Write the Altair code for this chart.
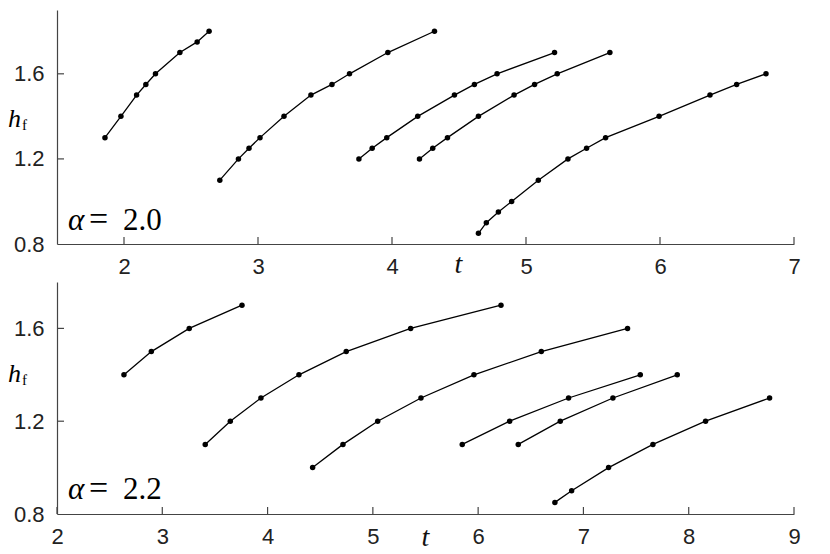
import altair as alt
import pandas as pd

# ---------------- data (alpha = 2.0) ----------------
top_t = [
    [1.858, 1.977, 2.094, 2.163, 2.235, 2.417, 2.546, 2.635],
    [2.715, 2.854, 2.933, 3.015, 3.194, 3.395, 3.552, 3.683, 3.969, 4.317],
    [3.753, 3.852, 3.961, 4.192, 4.466, 4.615, 4.784, 5.213],
    [4.205, 4.304, 4.414, 4.645, 4.911, 5.064, 5.233, 5.626],
    [4.645, 4.704, 4.794, 4.893, 5.092, 5.313, 5.452, 5.594, 5.993, 6.373, 6.572, 6.791],
]
top_h = [
    [1.30, 1.40, 1.50, 1.55, 1.60, 1.70, 1.75, 1.80],
    [1.10, 1.20, 1.25, 1.30, 1.40, 1.50, 1.55, 1.60, 1.70, 1.80],
    [1.20, 1.25, 1.30, 1.40, 1.50, 1.55, 1.60, 1.70],
    [1.20, 1.25, 1.30, 1.40, 1.50, 1.55, 1.60, 1.70],
    [0.85, 0.90, 0.95, 1.00, 1.10, 1.20, 1.25, 1.30, 1.40, 1.50, 1.55, 1.60],
]
# ---------------- data (alpha = 2.2) ----------------
bot_t = [
    [2.636, 2.896, 3.256, 3.757],
    [3.408, 3.646, 3.937, 4.298, 4.747, 5.359, 6.217],
    [4.428, 4.716, 5.046, 5.457, 5.960, 6.600, 7.419],
    [5.849, 6.299, 6.859, 7.540],
    [6.381, 6.780, 7.280, 7.891],
    [6.729, 6.888, 7.239, 7.660, 8.160, 8.768],
]
bot_h = [
    [1.40, 1.50, 1.60, 1.70],
    [1.10, 1.20, 1.30, 1.40, 1.50, 1.60, 1.70],
    [1.00, 1.10, 1.20, 1.30, 1.40, 1.50, 1.60],
    [1.10, 1.20, 1.30, 1.40],
    [1.10, 1.20, 1.30, 1.40],
    [0.85, 0.90, 1.00, 1.10, 1.20, 1.30],
]

top_xticks = [2, 3, 4, 5, 6, 7]
bot_xticks = [2, 3, 4, 5, 6, 7, 8, 9]
yticks = [0.8, 1.2, 1.6]
top_alpha = "2.0"
bot_alpha = "2.2"

AXIS_COLOR = "#444444"
LABEL_COLOR = "#222222"
SERIF = "Liberation Serif, Times New Roman, serif"
W = 737


def build(series_t, series_h):
    rows = []
    for i, (ts, hs) in enumerate(zip(series_t, series_h)):
        for j, (t, h) in enumerate(zip(ts, hs)):
            rows.append({"series": i, "order": j, "t": t, "h": h})
    return pd.DataFrame(rows)


def panel(series_t, series_h, xdom, ydom, xticks, H, alpha_val, label_t,
          label_h, tx, ty, hy):
    df = build(series_t, series_h)
    xs = alt.Scale(domain=xdom, nice=False, zero=False)
    ys = alt.Scale(domain=ydom, nice=False, zero=False)
    x_axis = alt.Axis(values=xticks, format="d", ticks=False, grid=False,
                      labelFlush=False, labelOverlap=False, labelPadding=12,
                      labelFontSize=22, labelFont="Liberation Sans",
                      labelColor=LABEL_COLOR, domainColor=AXIS_COLOR,
                      domainWidth=1.2, title="t", titleFont=SERIF,
                      titleFontStyle="italic", titleFontWeight="normal",
                      titleFontSize=28, titleX=tx, titleY=ty,
                      titleBaseline="alphabetic", titleAlign="center",
                      titleColor="#111111")
    y_axis = alt.Axis(values=yticks, format=".1f", ticks=False, grid=False,
                      labelFlush=False, labelOverlap=False, labelPadding=13,
                      labelFontSize=22, labelFont="Liberation Sans",
                      labelColor=LABEL_COLOR, domainColor=AXIS_COLOR,
                      domainWidth=1.2, title="")
    X = alt.X("t:Q", scale=xs, axis=x_axis)
    Y = alt.Y("h:Q", scale=ys, axis=y_axis)
    base = alt.Chart(df)
    lines = base.mark_line(color="black", strokeWidth=1.3).encode(
        x=X, y=Y, detail="series:N", order="order:Q")
    pts = base.mark_circle(color="black", size=30, opacity=1).encode(x=X, y=Y)
    xt = alt.Chart(pd.DataFrame({"t": xticks})).mark_rule(
        color=AXIS_COLOR, strokeWidth=1.2).encode(
        x=X, y=alt.value(H), y2=alt.value(H - 7))
    yt = alt.Chart(pd.DataFrame({"h": yticks[1:]})).mark_rule(
        color=AXIS_COLOR, strokeWidth=1.2).encode(
        y=Y, x=alt.value(0), x2=alt.value(7))
    lab_df = pd.DataFrame({"t": [label_t], "h": [label_h], "a": ["α"],
                           "e": ["="], "v": [alpha_val]})
    lab_a = alt.Chart(lab_df).mark_text(
        align="left", baseline="alphabetic", font=SERIF, fontStyle="italic",
        fontSize=31, color="black").encode(x=X, y=Y, text="a:N")
    lab_e = alt.Chart(lab_df).mark_text(
        align="left", baseline="alphabetic", font=SERIF, dx=21,
        fontSize=34, color="black").encode(x=X, y=Y, text="e:N")
    lab_v = alt.Chart(lab_df).mark_text(
        align="left", baseline="alphabetic", font=SERIF, dx=55,
        fontSize=31, color="black").encode(x=X, y=Y, text="v:N")
    hlab = alt.Chart(pd.DataFrame({"s": ["h"]})).mark_text(
        align="left", baseline="alphabetic", font=SERIF,
        fontStyle="italic", fontSize=26, color="black").encode(
        x=alt.value(-49), y=alt.value(hy), text="s:N")
    flab = alt.Chart(pd.DataFrame({"s": ["f"]})).mark_text(
        align="left", baseline="alphabetic", font=SERIF,
        fontSize=15, color="black").encode(
        x=alt.value(-35), y=alt.value(hy + 2.5), text="s:N")
    return alt.layer(lines, pts, xt, yt, lab_a, lab_e, lab_v, hlab,
                     flab).properties(width=W, height=H)


top = panel(top_t, top_h, [1.5, 7], [0.8, 1.9], top_xticks, 234, top_alpha,
            1.582, 0.866, 401, 28, 117)
bot = panel(bot_t, bot_h, [2, 9], [0.8, 1.8], bot_xticks, 232, bot_alpha,
            2.104, 0.865, 368, 31, 100)

chart = alt.vconcat(top, bot, spacing=4).properties(
    padding={"left": 0, "top": 2, "right": 0, "bottom": 0}
).configure_view(strokeWidth=0)

chart.save("out.html", embed_options={"renderer": "svg", "actions": False})
